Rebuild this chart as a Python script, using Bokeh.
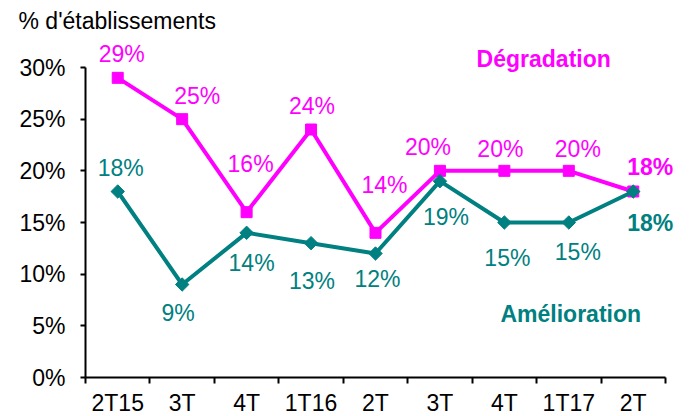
from bokeh.plotting import figure
from bokeh.models import (ColumnDataSource, LabelSet, Label, Range1d, FixedTicker,
                          PrintfTickFormatter)
from bokeh.core.properties import value
from bokeh.embed import file_html
from bokeh.resources import INLINE

# ---- data ----
categories = ["2T15", "3T", "4T", "1T16", "2T", "3T", "4T", "1T17", "2T"]
degradation = [29, 25, 16, 24, 14, 20, 20, 20, 18]
amelioration = [18, 9, 14, 13, 12, 19, 15, 15, 18]
y_ticks = [0, 5, 10, 15, 20, 25, 30]

# ---- label placement (pixels) ----
deg_dx = [4, 15, 4, 1, 9, -12, -4, 9, 17]
deg_dy = [24, 23, 48, 24, 48, 24, 22, 22, 25]
ame_dx = [3, -4, 5, 1, 2, 6, 3, 9, 17]
ame_dy = [24, -28, -30, -38, -25, -36, -35, -29, -31]

MAGENTA = "#FF00FF"
TEAL = "#008080"
FONT = "Liberation Sans"
FS = "23px"

xs = list(range(1, len(categories) + 1))
last = len(categories) - 1
styles = ["bold" if i == last else "normal" for i in range(len(categories))]

deg_src = ColumnDataSource(dict(x=xs, y=degradation,
                                t=[f"{v}%" for v in degradation],
                                dx=deg_dx, dy=deg_dy, st=styles))
ame_src = ColumnDataSource(dict(x=xs, y=amelioration,
                                t=[f"{v}%" for v in amelioration],
                                dx=ame_dx, dy=ame_dy, st=styles))

x_lo, x_hi = 0.5, len(categories) + 0.5
y_lo, y_hi = 0, 30

p = figure(frame_width=595, frame_height=341, output_backend="svg",
           toolbar_location=None, title="% d'établissements",
           x_range=Range1d(x_lo, x_hi + 0.233), y_range=Range1d(y_lo, 33),
           min_border_left=85, min_border_right=5, min_border_top=36,
           min_border_bottom=39)
p.outline_line_color = None
p.xgrid.visible = False
p.ygrid.visible = False
p.background_fill_color = "white"
p.border_fill_color = "white"

# title as the y-axis caption
p.title.align = "left"
p.title.offset = -67
p.title.standoff = 5
p.title.text_font = FONT
p.title.text_font_size = FS
p.title.text_font_style = "normal"
p.title.text_color = "black"

# x axis
xa = p.xaxis[0]
xa.bounds = (x_lo, x_hi)
xa.ticker = FixedTicker(ticks=xs, minor_ticks=[x - 0.5 for x in xs] + [xs[-1] + 0.5])
xa.major_label_overrides = {x: c for x, c in zip(xs, categories)}
xa.major_tick_out = 0
xa.major_tick_in = 0
xa.major_tick_line_color = None
xa.minor_tick_out = 6
xa.minor_tick_in = 0
xa.minor_tick_line_color = "black"
xa.minor_tick_line_width = 2
xa.axis_line_color = "black"
xa.axis_line_width = 2
xa.major_label_standoff = 6
xa.major_label_text_font = FONT
xa.major_label_text_font_size = FS
xa.major_label_text_color = "black"

# y axis
ya = p.yaxis[0]
ya.bounds = (y_lo, y_hi)
ya.ticker = FixedTicker(ticks=y_ticks, minor_ticks=[])
ya.formatter = PrintfTickFormatter(format="%d%%")
ya.major_tick_out = 5
ya.major_tick_in = 0
ya.major_tick_line_color = "black"
ya.major_tick_line_width = 2
ya.minor_tick_line_color = None
ya.axis_line_color = "black"
ya.axis_line_width = 2
ya.major_label_standoff = 15
ya.major_label_text_font = FONT
ya.major_label_text_font_size = FS
ya.major_label_text_color = "black"

# series
p.line("x", "y", source=deg_src, line_color=MAGENTA, line_width=4)
p.scatter("x", "y", source=deg_src, marker="square", size=11,
          fill_color=MAGENTA, line_color=MAGENTA)
p.line("x", "y", source=ame_src, line_color=TEAL, line_width=4)
p.scatter("x", "y", source=ame_src, marker="square", size=9.5, angle=0.785398,
          fill_color=TEAL, line_color=TEAL)

p.add_layout(LabelSet(x="x", y="y", text="t", source=deg_src, x_offset="dx",
                      y_offset="dy", text_align="center", text_baseline="middle",
                      text_font=value(FONT), text_font_size=value(FS),
                      text_font_style="st", text_color=MAGENTA))
p.add_layout(LabelSet(x="x", y="y", text="t", source=ame_src, x_offset="dx",
                      y_offset="dy", text_align="center", text_baseline="middle",
                      text_font=value(FONT), text_font_size=value(FS),
                      text_font_style="st", text_color=TEAL))

p.add_layout(Label(x=7.61, y=30.87, text="Dégradation", text_align="center",
                   text_baseline="middle", text_font=FONT, text_font_size=FS,
                   text_font_style="bold", text_color=MAGENTA))
p.add_layout(Label(x=8.03, y=6.19, text="Amélioration", text_align="center",
                   text_baseline="middle", text_font=FONT, text_font_size=FS,
                   text_font_style="bold", text_color=TEAL))

open("out.html", "w").write(file_html(p, INLINE))
